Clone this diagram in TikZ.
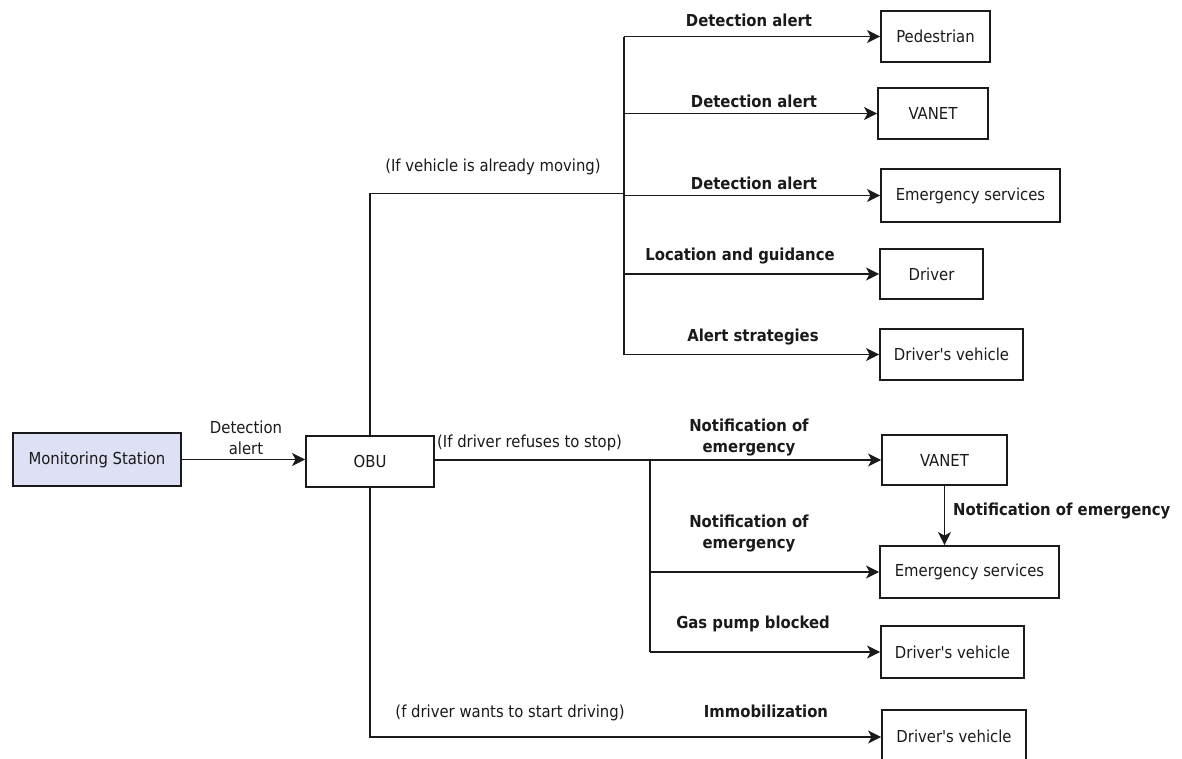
\documentclass[tikz,border=0pt]{standalone}
\usepackage{fontspec}
\setmainfont{DejaVu Sans Condensed}
\usetikzlibrary{arrows.meta}
\definecolor{msfill}{HTML}{DEE1F6}
\definecolor{ink}{HTML}{1A1A1A}
\newcommand{\dvtext}{Driver\textquotesingle s vehicle}
\begin{document}
\begin{tikzpicture}[x=1pt,y=-1pt,
  box/.style={draw=ink,line width=1.9pt,minimum height=#1,inner sep=0pt,font=\fontsize{16.5}{20}\selectfont,text=ink},
  box/.default=50pt,
  conn/.style={draw=ink,line width=1.3pt},
  arr/.style={conn,-{Stealth[length=13pt,width=13pt,inset=3.5pt]}},
  lbl/.style={font=\fontsize{16.5}{21}\selectfont\bfseries,text=ink,align=center,inner sep=0pt},
  cond/.style={font=\fontsize{16.5}{21}\selectfont,text=ink,inner sep=0pt,align=center}]
\useasboundingbox (0,0) rectangle (1182,758);
\clip (0,0) rectangle (1182,758);
% boxes
\node[box=53pt,minimum width=168pt,fill=msfill] (ms) at (97,459.5) {Monitoring Station};
\node[box=51pt,minimum width=128pt] (obu) at (370,461.5) {OBU};
\node[box=51pt,minimum width=109pt] (ped) at (935.5,36.5) {Pedestrian};
\node[box=51pt,minimum width=110pt] (van1) at (933,113.5) {VANET};
\node[box=53pt,minimum width=179pt] (es1) at (970.5,195.5) {Emergency services};
\node[box=50pt,minimum width=103pt] (drv) at (931.5,274) {Driver};
\node[box=51pt,minimum width=143pt] (dv1) at (951.5,354.5) {\dvtext};
\node[box=50pt,minimum width=125pt] (van2) at (944.5,460) {VANET};
\node[box=52pt,minimum width=179pt] (es2) at (969.5,572) {Emergency services};
\node[box=52pt,minimum width=143pt] (dv2) at (952.5,652) {\dvtext};
\node[box=54pt,minimum width=144pt] (dv3) at (954,737) {};
\node[font=\fontsize{16.5}{20}\selectfont,text=ink,inner sep=0pt] (dv3t) at (954,736) {\dvtext};
% junctions
\coordinate (t1) at (624,193.5);
\coordinate (t2) at (650,460);
% connectors
\draw[arr,line width=1.6pt] (ms.east) -- (ms.east -| obu.west);
\draw[conn,line width=1.7pt] (obu.north) |- (t1);
\draw[conn] (t1 |- ped.west) -- (t1 |- dv1.west);
\draw[arr] (t1 |- ped.west) -- (ped.west);
\draw[arr] (t1 |- van1.west) -- (van1.west);
\draw[arr] (t1 |- es1.west) -- (es1.west);
\draw[arr] (t1 |- drv.west) -- (drv.west);
\draw[arr] (t1 |- dv1.west) -- (dv1.west);
\draw[conn] (obu.east |- t2) -- (t2) -- (t2 |- dv2.west);
\draw[arr] (t2) -- (van2.west);
\draw[arr] (t2 |- es2.west) -- (es2.west);
\draw[arr] (t2 |- dv2.west) -- (dv2.west);
\draw[arr] (obu.south) |- (dv3.west);
\draw[arr] (van2.south) -- (van2.south |- es2.north);
% labels
\node[cond] (l0) at (246,437.5) {Detection\\alert};
\node[cond] (c1) at (493,167) {(If vehicle is already moving)};
\node[cond,anchor=west] (c2) at (437,443) {(If driver refuses to stop)};
\node[cond] (c3) at (510,713) {(f driver wants to start driving)};
\node[lbl] (l1) at (749,20) {Detection alert};
\node[lbl] (l2) at (754,101) {Detection alert};
\node[lbl] (l3) at (754,183) {Detection alert};
\node[lbl] (l4) at (740,256) {Location and guidance};
\node[lbl] (l5) at (753,337) {Alert strategies};
\node[lbl] (l6) at (749,437.5) {Notification of\\emergency};
\node[lbl,anchor=west] (l7) at (953,511) {Notification of emergency};
\node[lbl] (l8) at (749,533.5) {Notification of\\emergency};
\node[lbl] (l9) at (753,624) {Gas pump blocked};
\node[lbl] (l10) at (766,711) {Immobilization};
\end{tikzpicture}
\end{document}
